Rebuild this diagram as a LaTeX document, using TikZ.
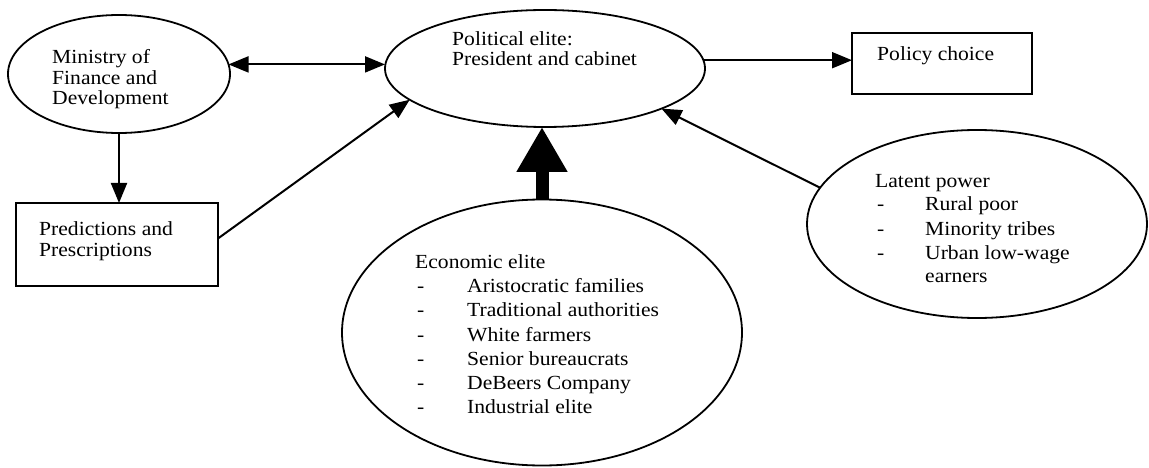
\documentclass[tikz,border=0pt]{standalone}
\usepackage{fontspec}
\setmainfont{Liberation Serif}[FakeStretch=1.08]
\usetikzlibrary{arrows.meta,shapes.geometric,calc}
\begin{document}
\begin{tikzpicture}[x=1pt,y=-1pt,
  ell/.style={draw, ellipse, line width=1.8pt, inner sep=0pt, outer sep=0pt},
  box/.style={draw, rectangle, line width=1.8pt, inner sep=0pt, outer sep=0pt},
  txt/.style={anchor=base west, inner sep=0pt, font=\fontsize{20}{24}\selectfont},
  conn/.style={line width=2pt, -{Triangle[length=20pt,width=16pt]}},
  dconn/.style={line width=2pt, {Triangle[length=20pt,width=16pt]}-{Triangle[length=20pt,width=16pt]}},
  bigconn/.style={line width=13pt, -{Triangle[length=45pt,width=48pt]}}]
\path[fill=white] (0,0) rectangle (1149,468);
\useasboundingbox (0,0) rectangle (1149,468);

% shapes
\node[ell, minimum width=222pt, minimum height=118pt] (min) at (119,74) {};
\node[ell, minimum width=320pt, minimum height=117pt] (pol) at (545,68.5) {};
\node[box, minimum width=180pt, minimum height=61pt] (pc) at (942,63.5) {};
\node[box, minimum width=202pt, minimum height=83pt] (pred) at (117,244.5) {};
\node[ell, minimum width=400pt, minimum height=266pt] (econ) at (542,332.5) {};
\node[ell, minimum width=340pt, minimum height=188pt] (lat) at (977,224) {};

% texts
\node[txt] (m1) at (52,64) {Ministry of};
\node[txt] (m2) at (52,85) {Finance and};
\node[txt] (m3) at (52,105) {Development};

\node[txt] (p1) at (452,46) {Political elite:};
\node[txt] (p2) at (452,66) {President and cabinet};

\node[txt] (c1) at (877,61) {Policy choice};

\node[txt] (r1) at (39,235) {Predictions and};
\node[txt] (r2) at (39,256) {Prescriptions};

\node[txt] (e0) at (415,268) {Economic elite};
\node[txt] (ed1) at (417,292) {-};
\node[txt] (e1) at (467,292) {Aristocratic families};
\node[txt] (ed2) at (417,316) {-};
\node[txt] (e2) at (467,316) {Traditional authorities};
\node[txt] (ed3) at (417,341) {-};
\node[txt] (e3) at (467,341) {White farmers};
\node[txt] (ed4) at (417,365) {-};
\node[txt] (e4) at (467,365) {Senior bureaucrats};
\node[txt] (ed5) at (417,389) {-};
\node[txt] (e5) at (467,389) {DeBeers Company};
\node[txt] (ed6) at (417,413) {-};
\node[txt] (e6) at (467,413) {Industrial elite};

\node[txt] (l0) at (875,187) {Latent power};
\node[txt] (ld1) at (877,210) {-};
\node[txt] (l1) at (925,210) {Rural poor};
\node[txt] (ld2) at (877,235) {-};
\node[txt] (l2) at (925,235) {Minority tribes};
\node[txt] (ld3) at (877,259) {-};
\node[txt] (l3) at (925,259) {Urban low-wage};
\node[txt] (l4) at (925,282) {earners};

% connectors
\draw[dconn] (min.5) -- (min.5 -| pol.west);
\draw[conn] (pol.3) -- (pol.3 -| pc.west);
\draw[conn] (min.south) -- (min.south |- pred.north);
\draw[conn] ($(pred.east)+(0,-6)$) -- (pol.193);
\draw[conn] (lat.167) -- (pol.-19);
\draw[bigconn] (econ.north) -- (econ.north |- pol.south);
\end{tikzpicture}
\end{document}
